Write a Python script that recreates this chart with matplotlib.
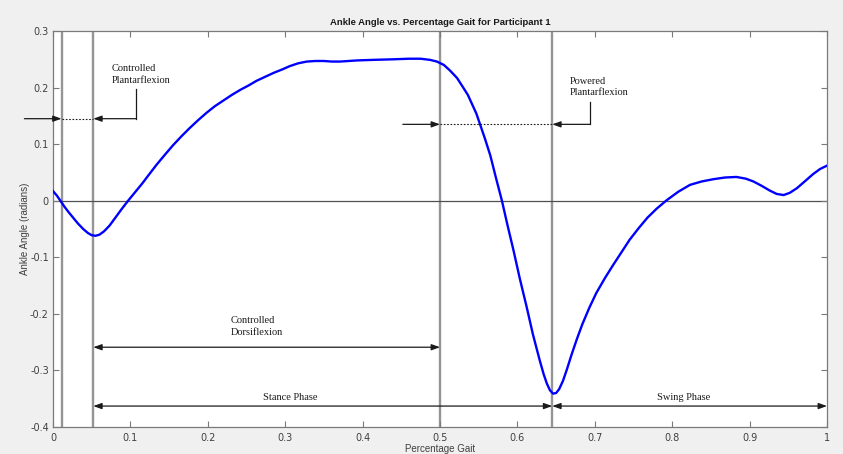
import matplotlib
matplotlib.use('Agg')
import matplotlib.pyplot as plt

# Ankle angle over one gait cycle (fraction of cycle, radians)
gait = [0.000, 0.005, 0.010, 0.015, 0.020, 0.026, 0.032, 0.039, 0.045, 0.050,
        0.055, 0.060, 0.066, 0.073, 0.080, 0.088, 0.097, 0.106, 0.115, 0.125,
        0.134, 0.145, 0.155, 0.166, 0.177, 0.188, 0.198, 0.209, 0.220, 0.231,
        0.242, 0.253, 0.263, 0.274, 0.285, 0.296, 0.306, 0.317, 0.328, 0.339,
        0.350, 0.360, 0.371, 0.382, 0.393, 0.414, 0.440, 0.460, 0.475, 0.487,
        0.496, 0.505, 0.513, 0.522, 0.530, 0.536, 0.541, 0.547, 0.552, 0.558,
        0.565, 0.572, 0.580, 0.587, 0.595, 0.603, 0.612, 0.620, 0.629, 0.634,
        0.638, 0.642, 0.646, 0.650, 0.654, 0.659, 0.664, 0.670, 0.677, 0.684,
        0.693, 0.702, 0.713, 0.724, 0.735, 0.745, 0.757, 0.768, 0.780, 0.793,
        0.808, 0.823, 0.838, 0.853, 0.868, 0.883, 0.895, 0.905, 0.916, 0.926,
        0.935, 0.944, 0.952, 0.961, 0.972, 0.982, 0.991, 1.000]
angle = [0.017, 0.009, -0.001, -0.011, -0.020, -0.030, -0.040, -0.050, -0.057, -0.061,
         -0.062, -0.060, -0.054, -0.044, -0.031, -0.016, 0.000, 0.015, 0.030, 0.048,
         0.064, 0.082, 0.098, 0.114, 0.129, 0.143, 0.155, 0.167, 0.177, 0.187,
         0.196, 0.204, 0.212, 0.219, 0.226, 0.232, 0.238, 0.243, 0.246, 0.247,
         0.247, 0.246, 0.246, 0.247, 0.248, 0.249, 0.250, 0.251, 0.251, 0.249,
         0.246, 0.240, 0.230, 0.217, 0.200, 0.187, 0.172, 0.154, 0.134, 0.110,
         0.080, 0.042, 0.000, -0.042, -0.088, -0.137, -0.188, -0.236, -0.283, -0.307,
         -0.323, -0.335, -0.341, -0.340, -0.333, -0.318, -0.298, -0.272, -0.244, -0.218,
         -0.189, -0.163, -0.137, -0.113, -0.090, -0.069, -0.048, -0.030, -0.014, 0.001,
         0.016, 0.028, 0.034, 0.038, 0.041, 0.042, 0.039, 0.034, 0.026, 0.018,
         0.012, 0.010, 0.014, 0.022, 0.035, 0.047, 0.056, 0.062]

# gait events: heel strike, foot flat, heel off, toe off
events = [0.011, 0.052, 0.500, 0.645]

xticks = [0, 0.1, 0.2, 0.3, 0.4, 0.5, 0.6, 0.7, 0.8, 0.9, 1]
yticks = [-0.4, -0.3, -0.2, -0.1, 0, 0.1, 0.2, 0.3]

FIG_BG = '#f0f0f0'
EVENT = '#959595'
AXIS = '#7a7a7a'
LABEL = '#404040'
INK = '#1a1a1a'
SERIF = 'Liberation Serif'
SANS = 'Liberation Sans'

fig = plt.figure(figsize=(8.43, 4.54), dpi=100, facecolor=FIG_BG)
ax = fig.add_axes([0.0629, 0.0595, 0.9181, 0.8722])
ax.set_facecolor('white')

for ev in events:
    ax.axvline(ev, color=EVENT, linewidth=1.7, zorder=1)
ax.axhline(0, color='#505050', linewidth=0.9, zorder=1)

ax.plot(gait, angle, color='#0000ff', linewidth=1.7, zorder=3,
        solid_joinstyle='round')

ax.set_xlim(0, 1)
ax.set_ylim(-0.4, 0.3)
ax.set_xticks(xticks)
ax.set_xticklabels([f'{t:g}' for t in xticks])
ax.set_yticks(yticks)
ax.set_yticklabels([f'{t:g}' for t in yticks])
ax.tick_params(direction='in', top=True, right=True, length=4, width=0.8,
               color=AXIS, labelcolor=LABEL, labelsize=7, pad=4)
ax.tick_params(axis='y', pad=3)
for sp in ax.spines.values():
    sp.set_color(AXIS)
    sp.set_linewidth(0.9)

ax.set_title('Ankle Angle vs. Percentage Gait for Participant 1',
             fontsize=6.8, fontweight='bold', family=SANS, color=INK, pad=4)
ax.set_xlabel('Percentage Gait', fontsize=7, family=SANS, color=LABEL,
              labelpad=1)
ax.set_ylabel('Ankle Angle (radians)', fontsize=7, family=SANS, color=LABEL,
              labelpad=0)

arrow = dict(arrowstyle='-|>,head_length=0.5,head_width=0.18', color=INK,
             linewidth=0.9, shrinkA=0, shrinkB=0)
both = dict(arrowstyle='<|-|>,head_length=0.5,head_width=0.18', color=INK,
            linewidth=0.9, shrinkA=0, shrinkB=0)
txt = dict(fontsize=7.5, family=SERIF, color=INK, linespacing=1.35)


def bracket(x0, x1, y, elbow_x, elbow_top, left_start):
    # arrow in from the left, dotted span, arrow back from an elbow
    ax.annotate('', xy=(x0, y), xytext=(left_start, y), arrowprops=arrow,
                annotation_clip=False)
    ax.plot([x0, x1], [y, y], linestyle=(0, (1.5, 1.5)), color=INK,
            linewidth=0.8, zorder=4)
    ax.annotate('', xy=(x1, y), xytext=(elbow_x, y), arrowprops=arrow)
    ax.plot([elbow_x, elbow_x], [y, elbow_top], color=INK, linewidth=0.9,
            zorder=4)


bracket(events[0], events[1], 0.145, 0.107, 0.198, -0.037)
ax.text(0.076, 0.2235, 'Controlled\nPlantarflexion', ha='left', va='center',
        **txt)

bracket(events[2], events[3], 0.135, 0.694, 0.174, 0.452)
ax.text(0.667, 0.201, 'Powered\nPlantarflexion', ha='left', va='center', **txt)

ax.annotate('', xy=(events[2], -0.259), xytext=(events[1], -0.259),
            arrowprops=both)
ax.text(0.229, -0.222, 'Controlled\nDorsiflexion', ha='left', va='center',
        **txt)

ax.annotate('', xy=(events[3], -0.363), xytext=(events[1], -0.363),
            arrowprops=both)
ax.text(0.307, -0.347, 'Stance Phase', ha='center', va='center', **txt)

ax.annotate('', xy=(1.0, -0.363), xytext=(events[3], -0.363),
            arrowprops=both, annotation_clip=False)
ax.text(0.815, -0.347, 'Swing Phase', ha='center', va='center', **txt)

fig.savefig('out.png', dpi=100, facecolor=FIG_BG)
